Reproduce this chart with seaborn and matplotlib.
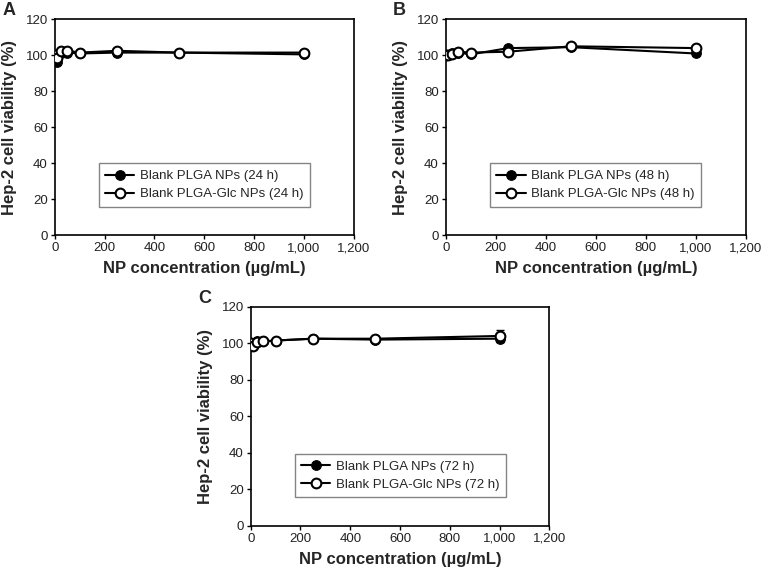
import matplotlib
matplotlib.use("Agg")
import matplotlib.pyplot as plt
import seaborn as sns
import pandas as pd

sns.set_style("white")
plt.rcParams["font.family"] = ["Liberation Sans", "DejaVu Sans"]

# Data
conc = [0, 10, 25, 50, 100, 250, 500, 1000]

plga_24 = [100, 96.5, 101, 101.5, 101, 101.5, 101.5, 100.5]
glc_24 = [100, 98.5, 102.5, 102.5, 101.5, 102.5, 101.5, 101.5]
plga_24_err = [0.5, 1.5, 0.5, 0.5, 0.5, 0.5, 0.5, 1.0]
glc_24_err = [0.5, 1.0, 0.5, 0.5, 0.5, 0.5, 0.5, 0.5]

plga_48 = [100, 100, 101, 101.5, 100.5, 104, 104.5, 101]
glc_48 = [100, 100, 100.5, 102, 101.5, 102, 105, 104]
plga_48_err = [0.5, 0.5, 0.5, 0.5, 0.5, 0.8, 0.5, 0.8]
glc_48_err = [0.5, 0.5, 0.5, 0.5, 0.5, 0.5, 0.5, 0.8]

plga_72 = [100, 99, 101, 101, 101.5, 102.5, 102, 102.5]
glc_72 = [100, 98.5, 100.5, 101, 101.5, 102.5, 102.5, 104]
plga_72_err = [0.5, 0.5, 0.5, 0.5, 0.5, 0.5, 0.5, 1.5]
glc_72_err = [0.5, 0.5, 0.5, 0.5, 0.5, 0.5, 0.5, 3.5]

panels = [
    ("A", "24 h", plga_24, glc_24, plga_24_err, glc_24_err, [0.072, 0.586, 0.392, 0.380]),
    ("B", "48 h", plga_48, glc_48, plga_48_err, glc_48_err, [0.585, 0.586, 0.394, 0.380]),
    ("C", "72 h", plga_72, glc_72, plga_72_err, glc_72_err, [0.329, 0.074, 0.392, 0.386]),
]

fig = plt.figure(figsize=(7.62, 5.68), dpi=100)

for letter, hours, plga, glc, plga_err, glc_err, rect in panels:
    ax = fig.add_axes(rect)

    # error bars
    ax.errorbar(conc, plga, yerr=plga_err, fmt="none", ecolor="black", elinewidth=1, capsize=3, zorder=2)
    ax.errorbar(conc, glc, yerr=glc_err, fmt="none", ecolor="black", elinewidth=1, capsize=3, zorder=2)

    sns.lineplot(x=conc, y=plga, color="black", marker="o", markersize=7,
                 markerfacecolor="black", markeredgecolor="black", linewidth=1.5,
                 label=f"Blank PLGA NPs ({hours})", ax=ax, zorder=3)
    sns.lineplot(x=conc, y=glc, color="black", marker="o", markersize=7,
                 markerfacecolor="white", markeredgecolor="black", markeredgewidth=1.5,
                 linewidth=1.5, label=f"Blank PLGA-Glc NPs ({hours})", ax=ax, zorder=4)

    ax.set_xlim(0, 1200)
    ax.set_ylim(0, 120)
    ax.set_xticks(range(0, 1201, 200))
    ax.set_xticklabels([f"{v:,}" for v in range(0, 1201, 200)])
    ax.set_yticks(range(0, 121, 20))
    ax.tick_params(axis="both", direction="out", length=3, width=1, labelsize=9.5,
                   colors="black", labelcolor="#222222", pad=2)
    ax.tick_params(top=False, right=False, bottom=True, left=True)
    for s in ax.spines.values():
        s.set_color("black")
        s.set_linewidth(1.2)

    ax.set_xlabel("NP concentration (µg/mL)", fontsize=12, fontweight="bold", labelpad=5)
    ax.set_ylabel("Hep-2 cell viability (%)", fontsize=12, fontweight="bold", labelpad=6)

    leg = ax.legend(loc="lower left", bbox_to_anchor=(0.125, 0.1),
                    fontsize=9.5, frameon=True, fancybox=False, edgecolor="#666666",
                    handlelength=2.2, borderpad=0.5, labelspacing=0.45, handletextpad=0.4)
    leg.get_frame().set_linewidth(1.0)

    ax.text(-0.175, 1.0, letter, transform=ax.transAxes, fontsize=13, fontweight="bold",
            va="bottom", ha="left")

plt.savefig("out.png", dpi=100)
